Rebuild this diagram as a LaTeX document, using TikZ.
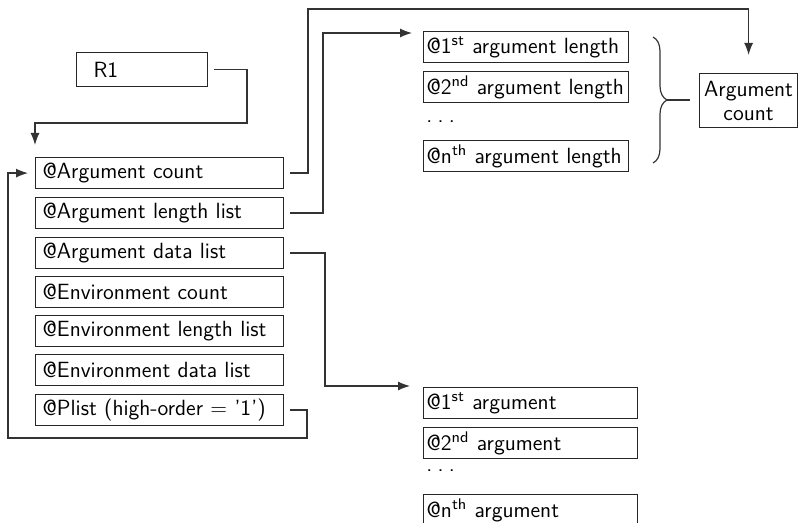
\documentclass[tikz,border=0pt]{standalone}
\usepackage{fontspec}
\usetikzlibrary{arrows.meta,decorations.pathreplacing}
\newcommand{\spdots}{.\hspace{2.6pt}.\hspace{2.6pt}.}
\begin{document}
\begin{tikzpicture}[x=0.5pt,y=-0.5pt,
  txt/.style={font=\sffamily\fontsize{11}{12}\selectfont},
  box/.style={txt, draw=black!85, line width=0.6pt, anchor=north west, inner ysep=0pt,
    minimum height=15.5pt, align=left},
  lbox/.style={box, inner xsep=3.5pt, text width=117pt},
  tbox/.style={box, inner xsep=1.5pt, text width=99.5pt},
  bbox/.style={box, inner xsep=1.5pt, text width=104pt},
  conn/.style={draw=black!80, line width=0.6pt},
  arr/.style={conn, -{Latex[length=6pt,width=4.5pt]}}
]
\useasboundingbox (0,0) rectangle (799,523);

% R1
\node[box, inner xsep=8.5pt, text width=48.5pt, minimum height=17pt] (r1) at (76,52) {R1};

% left column
\node[lbox] (ac) at (35,157) {@Argument count};
\node[lbox] (al) at (35,197) {@Argument length list};
\node[lbox] (ad) at (35,237) {@Argument data list};
\node[lbox] (ec) at (35,276) {@Environment count};
\node[lbox] (el) at (35,315) {@Environment length list};
\node[lbox] (ed) at (35,354) {@Environment data list};
\node[lbox] (pl) at (35,394) {@Plist (high-order = '1')};

% top right
\node[tbox] (l1) at (423,31) {@1\textsuperscript{st} argument length};
\node[tbox] (l2) at (423,71) {@2\textsuperscript{nd} argument length};
\node[txt, anchor=base west, inner sep=1.5pt] (ldots) at (423,123) {\spdots};
\node[tbox] (ln) at (423,140) {@n\textsuperscript{th} argument length};

% argument count
\node[txt, draw=black!85, line width=0.6pt, anchor=north west, align=center, inner sep=0pt,
  minimum width=49pt, minimum height=27pt] (argc) at (699,73) {Argument\\count};

% bottom right
\node[bbox] (a1) at (423,387) {@1\textsuperscript{st} argument};
\node[bbox] (a2) at (423,427) {@2\textsuperscript{nd} argument};
\node[txt, anchor=base west, inner sep=1.5pt] (adots) at (423,472) {\spdots};
\node[bbox] (an) at (423,494) {@n\textsuperscript{th} argument};

% brace
\draw[conn, decorate, decoration={brace, amplitude=7pt}] (653,37) -- (653,163);
\coordinate (bt) at (667,100);
\draw[conn, shorten >=4.5pt] (bt) -- (argc.west |- bt);

% connectors
\coordinate (c1) at (247,123);
\draw[arr, shorten <=3pt, shorten >=6pt] (r1.east) -| (c1) -| (ac.north west);

\coordinate (c2) at (308,9);
\draw[arr, shorten <=3pt, shorten >=9pt] (ac.east) -| (c2) -| (argc.north);

\coordinate (c3) at (323,33);
\draw[arr, shorten <=3pt, shorten >=5.5pt] (al.east) -| (c3) -- (l1.north west |- c3);

\coordinate (c4) at (325,386);
\draw[arr, shorten <=3pt, shorten >=6.5pt] (ad.east) -| (c4) -- (a1.north west |- c4);

\coordinate (c5) at (307,438);
\coordinate (c6) at (8,438);
\draw[arr, shorten <=3pt, shorten >=3.5pt] (pl.east) -| (c5) -- (c6) |- (ac.west);
\end{tikzpicture}
\end{document}
